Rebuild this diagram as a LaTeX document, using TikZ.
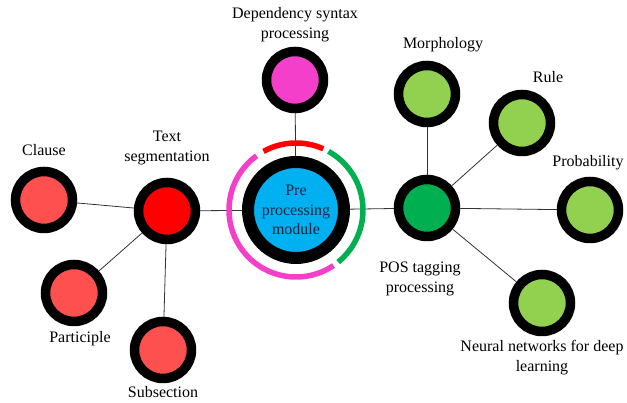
\documentclass[tikz,border=0pt]{standalone}
\usepackage{fontspec}
\setmainfont{Liberation Serif}
\definecolor{hubblue}{HTML}{00B0F0}
\definecolor{segred}{HTML}{FF0000}
\definecolor{leafred}{HTML}{FF5050}
\definecolor{depink}{HTML}{F43FCB}
\definecolor{posgreen}{HTML}{00B050}
\definecolor{leafgreen}{HTML}{92D050}
\definecolor{hubtext}{HTML}{1A2540}
\begin{document}
\begin{tikzpicture}[x=1pt,y=1pt,
	hub/.style={circle,draw=black,line width=12pt,fill=hubblue,minimum size=96pt,inner sep=0pt,align=center,text=hubtext,font=\fontsize{16}{19.5}\selectfont},
	leaf/.style={circle,draw=black,line width=9.5pt,minimum size=57pt,inner sep=0pt},
	txt/.style={align=center,font=\fontsize{16}{20}\selectfont},
	link/.style={draw=black!80,line width=0.8pt}]
	\useasboundingbox (0,0) rectangle (627,403);
	
	\node[hub] (pre) at (296,193) {Pre\\processing\\module};
	
	\node[leaf,fill=depink] (dep) at (295,323) {};
	\node[txt] (deplab) at (295,378) {Dependency syntax\\processing};
	
	\node[leaf,fill=segred] (seg) at (167,192) {};
	\node[txt] (seglab) at (167,255) {Text\\segmentation};
	\node[leaf,fill=leafred] (clause) at (44,203) {};
	\node[txt] (clauselab) at (44,253) {Clause};
	\node[leaf,fill=leafred] (part) at (74,110) {};
	\node[txt] (partlab) at (80,64) {Participle};
	\node[leaf,fill=leafred] (subs) at (163,53) {};
	\node[txt] (subslab) at (163,11) {Subsection};
	
	\node[leaf,fill=posgreen] (pos) at (427,195) {};
	\node[txt] (poslab) at (420,124) {POS tagging\\processing};
	\node[leaf,fill=leafgreen] (morph) at (427,309) {};
	\node[txt] (morphlab) at (443,358) {Morphology};
	\node[leaf,fill=leafgreen] (rule) at (522,280) {};
	\node[txt] (rulelab) at (548,326) {Rule};
	\node[leaf,fill=leafgreen] (prob) at (590,193) {};
	\node[txt] (problab) at (588,240) {Probability};
	\node[leaf,fill=leafgreen] (neural) at (542,100) {};
	\node[txt] (neurallab) at (542,45) {Neural networks for deep\\learning};
	
	\draw[link] (dep) -- (pre);
	\draw[link] (seg) -- (pre);
	\draw[link] (seg) -- (clause);
	\draw[link] (seg) -- (part);
	\draw[link] (seg) -- (subs);
	\draw[link] (pos) -- (pre);
	\draw[link] (pos) -- (morph);
	\draw[link] (pos) -- (rule);
	\draw[link] (pos) -- (prob);
	\draw[link] (pos) -- (neural);
	
	\draw[red,line width=5.5pt] (pre.center) ++(66:67) arc[start angle=66,end angle=119,radius=67];
	\draw[posgreen,line width=5.5pt] (pre.center) ++(-51:67) arc[start angle=-51,end angle=61,radius=67];
	\draw[depink,line width=5.5pt] (pre.center) ++(126:67) arc[start angle=126,end angle=304,radius=67];
\end{tikzpicture}
\end{document}
